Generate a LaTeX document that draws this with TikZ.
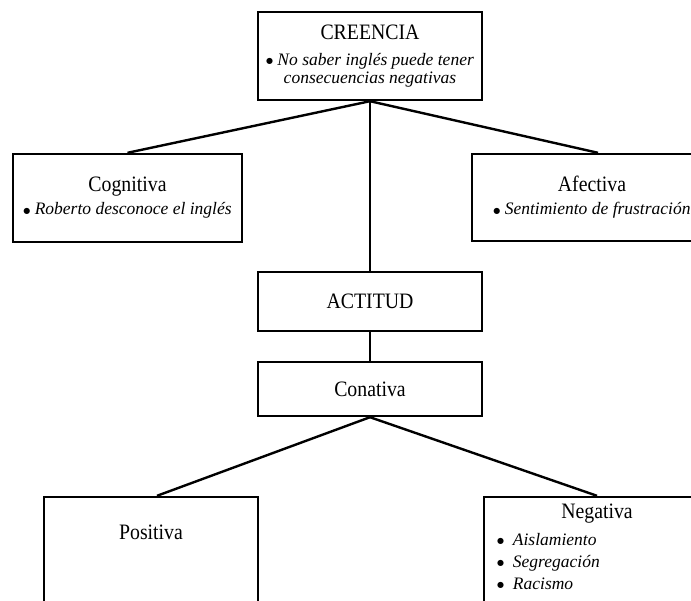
\documentclass[tikz,border=0pt]{standalone}
\usepackage{fontspec}
\setmainfont{Liberation Serif}
\newfontfamily\titleface[FakeStretch=0.9]{Liberation Serif}
\newfontfamily\symface{DejaVu Sans}
\usetikzlibrary{positioning}
\newcommand{\titlefont}{\titleface\fontsize{22}{24}\selectfont}
\newcommand{\dotmark}{\raisebox{1.5pt}{\symface\fontsize{8}{8}\selectfont ●}\ }

\begin{document}
\begin{tikzpicture}[x=1pt, y=-1pt,
    box/.style={rectangle, draw, line width=2.4pt, align=center, inner sep=0pt, font=\fontsize{17.5}{18}\selectfont},
    title/.style={font=\titlefont, inner sep=0pt},
    item/.style={font=\fontsize{17.5}{22}\selectfont, align=left, inner sep=0pt},
    link/.style={line width=2.4pt}
]
    \clip (0,0) rectangle (691,600);

    \node[box, minimum width=224pt, minimum height=88pt] (creencia) at (370,56)
        {{\titlefont CREENCIA}\\[8pt] \dotmark\textit{No saber inglés puede tener}\\ \textit{consecuencias negativas}};
    \node[box, minimum width=229pt, minimum height=88pt] (cognitiva) at (127.5,198)
        {{\titlefont Cognitiva}\\[5pt] \dotmark\textit{Roberto desconoce el inglés}};
    \node[box, minimum width=240pt, minimum height=87pt] (afectiva) at (592,197.5)
        {{\titlefont Afectiva}\\[5pt] \dotmark\textit{Sentimiento de frustración}};
    \node[box, minimum width=224pt, minimum height=59pt] (actitud) at (370,301.5) {\titlefont ACTITUD};
    \node[box, minimum width=224pt, minimum height=54pt] (conativa) at (370,389) {\titlefont Conativa};

    % lower boxes run past the page
    \node[box, minimum width=214pt, minimum height=142pt] (positiva) at (151,568) {};
    \node[box, minimum width=226pt, minimum height=142pt] (negativa) at (597,568) {};
    \node[title] (positivatitle) at (151,532) {Positiva};
    \node[title] (negativatitle) at (597,514) {Negativa};
    \node[item, anchor=north west] (negativalist) at (497,533)
        {\dotmark\ \textit{Aislamiento}\\ \dotmark\ \textit{Segregación}\\ \dotmark\ \textit{Racismo}};

    \draw[link] (creencia.south) -- (cognitiva.north);
    \draw[link] (creencia.south) -- ([xshift=6pt]afectiva.north);
    \draw[link] (creencia.south) -- (actitud.north);
    \draw[link] (actitud) -- (conativa);
    \draw[link] (conativa.south) -- ([xshift=6pt]positiva.north);
    \draw[link] (conativa.south) -- (negativa.north);
\end{tikzpicture}
\end{document}
